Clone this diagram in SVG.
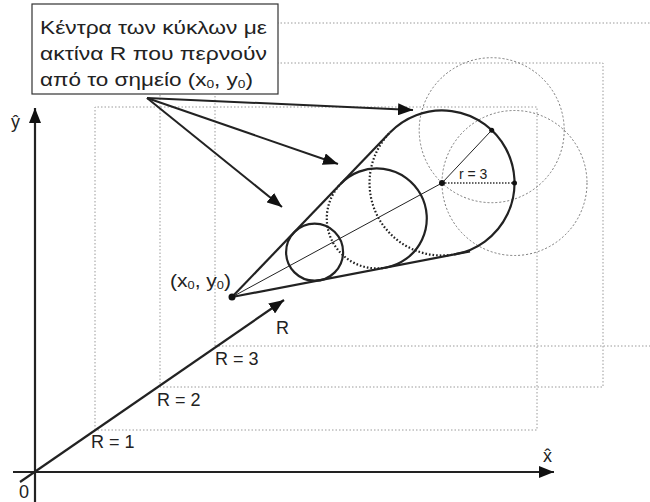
<svg xmlns="http://www.w3.org/2000/svg" width="650" height="502" viewBox="0 0 650 502">
<style>
text{font-family:"Liberation Sans",Arial,sans-serif;fill:#222}
.grid{fill:none;stroke:#9a9a9a;stroke-width:1;stroke-dasharray:1.5 2}
.ghost{fill:none;stroke:#777;stroke-width:1;stroke-dasharray:2 2}
.solid{fill:none;stroke:#222;stroke-width:2.2}
.hidden{fill:none;stroke:#222;stroke-width:2.2;stroke-dasharray:1.6 2}
.thin{fill:none;stroke:#222;stroke-width:1}
.arrow{fill:none;stroke:#222;stroke-width:2;marker-end:url(#ah)}
.axis{fill:none;stroke:#222;stroke-width:2.2;marker-end:url(#ah)}
.lbl{font-size:18px}
.dot{fill:#111}
</style>
<defs>
<marker id="ah" markerUnits="userSpaceOnUse" markerWidth="16" markerHeight="12" refX="15" refY="6" orient="auto">
<path d="M0,0 L15,6 L0,12 Z" fill="#111"/>
</marker>
</defs>

<g id="grid">
<polyline class="grid" points="95,430 95,107 537,107 537,430 95,430"/>
<polyline class="grid" points="160,387 160,63 603,63 603,387 160,387"/>
<polyline class="grid" points="215,346 215,23 650,23"/>
<line class="grid" x1="215" y1="346" x2="650" y2="346"/>
</g>

<g id="label-box">
<rect x="32" y="4" width="246" height="90" fill="#fff" stroke="#333" stroke-width="1.2"/>
<text class="lbl" x="40" y="34" font-size="19" textLength="227" lengthAdjust="spacingAndGlyphs">Κέντρα των κύκλων με</text>
<text class="lbl" x="40" y="60" font-size="19" textLength="227" lengthAdjust="spacingAndGlyphs">ακτίνα R που περνούν</text>
<text class="lbl" x="40" y="86" font-size="19" textLength="213" lengthAdjust="spacingAndGlyphs">από το σημείο (x<tspan font-size="11" dy="2">0</tspan><tspan dy="-2">, y</tspan><tspan font-size="11" dy="2">0</tspan><tspan dy="-2">)</tspan></text>
</g>

<g id="ghost-circles">
<circle class="ghost" cx="491.7" cy="130.2" r="72.5"/>
<circle class="ghost" cx="514.5" cy="183" r="72.5"/>
</g>

<g id="cone">
<line class="solid" x1="232" y1="297" x2="389.7" y2="132.8"/>
<line class="solid" x1="232" y1="297" x2="470" y2="251.4"/>
<line class="thin" x1="232" y1="297" x2="442" y2="183"/>
</g>

<g id="circle-R1">
<circle class="solid" cx="314.6" cy="252.2" r="28.5"/>
</g>

<g id="circle-R2">
<path class="solid" d="M340.8,183.7 A50,50 0 1 1 386.3,267.5"/>
<path class="hidden" d="M386.3,267.5 A50,50 0 0 1 340.8,183.7"/>
</g>

<g id="circle-R3">
<path class="solid" d="M389.7,132.8 A72.5,72.5 0 1 1 455.6,254.2"/>
<path class="hidden" d="M455.6,254.2 A72.5,72.5 0 0 1 389.7,132.8"/>
<line class="thin" x1="442" y1="183" x2="491.7" y2="130.2"/>
<line x1="442" y1="183" x2="514.5" y2="183" stroke="#333" stroke-width="1.4" stroke-dasharray="1.5 1.5"/>
<circle class="dot" cx="442" cy="183" r="3"/>
<circle class="dot" cx="491.7" cy="130.2" r="2.5"/>
<circle class="dot" cx="514.5" cy="183" r="2.5"/>
<text x="459" y="179" font-size="14">r = 3</text>
</g>

<g id="apex">
<circle class="dot" cx="232" cy="297" r="3.5"/>
<text class="lbl" x="170" y="287" textLength="61" lengthAdjust="spacingAndGlyphs">(x<tspan font-size="11" dy="2">0</tspan><tspan dy="-2">, y</tspan><tspan font-size="11" dy="2">0</tspan><tspan dy="-2">)</tspan></text>
</g>

<g id="axes">
<line class="axis" x1="35" y1="502" x2="35" y2="108"/>
<line class="axis" x1="13" y1="472" x2="554" y2="472"/>
<line class="axis" x1="20" y1="482" x2="284" y2="300"/>
<text class="lbl" x="11" y="128">ŷ</text>
<text class="lbl" x="543" y="462">x̂</text>
<text class="lbl" x="19" y="498">0</text>
<text class="lbl" x="276" y="334">R</text>
<text class="lbl" x="91" y="448">R = 1</text>
<text class="lbl" x="157" y="406">R = 2</text>
<text class="lbl" x="215" y="365">R = 3</text>
</g>

<g id="connectors">
<line class="arrow" x1="147" y1="98" x2="413" y2="110"/>
<line class="arrow" x1="147" y1="98" x2="338" y2="164"/>
<line class="arrow" x1="147" y1="98" x2="282" y2="207"/>
</g>
</svg>
